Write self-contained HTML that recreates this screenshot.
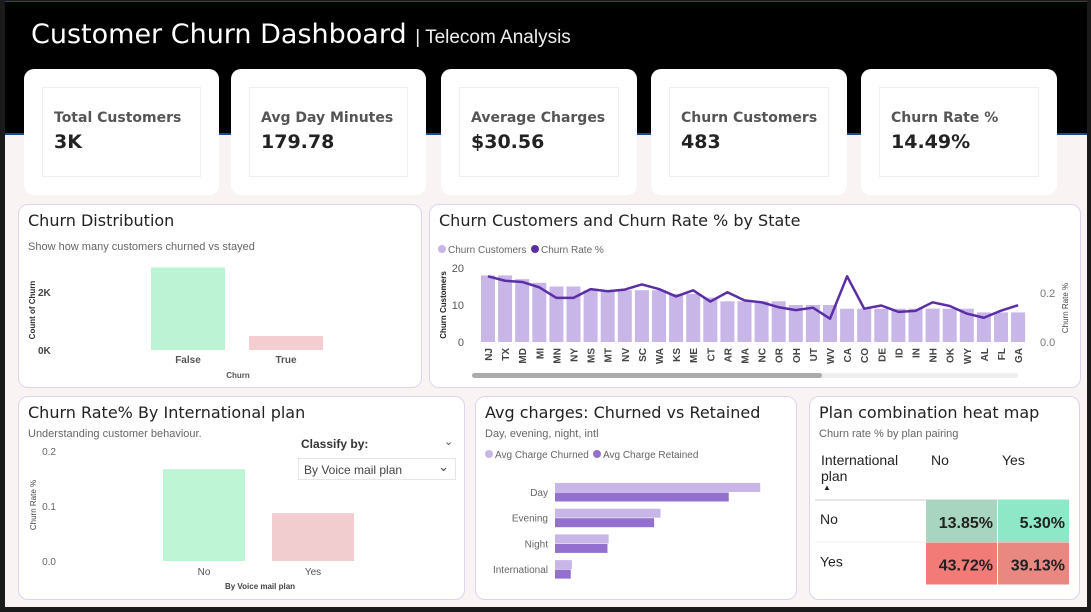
<!DOCTYPE html>
<html><head><meta charset="utf-8"><style>
*{box-sizing:border-box;margin:0;padding:0}
body{width:1091px;height:612px;overflow:hidden;background:#1a1a1a;font-family:"Liberation Sans",sans-serif;position:relative}
.page{position:absolute;left:5px;top:1px;width:1082px;height:606px;background:#f9f3f3;overflow:hidden}
.hdr{position:absolute;left:0;top:0;width:1082px;height:134px;background:#000;border-bottom:2px solid #1a4a8a;border-top:1px solid #1a4a8a}
.title{position:absolute;left:26px;top:17px;color:#fff;font-family:"DejaVu Sans",sans-serif;font-size:27px}
.title span{font-family:"Liberation Sans",sans-serif;font-size:19px;color:#eee}
.kpi{position:absolute;top:68px;height:126px;background:#fff;border-radius:10px}
.kin{position:absolute;left:18px;top:18px;right:18px;bottom:18px;border:1px solid #f0eeee}
.kl{position:absolute;left:11px;top:22px;font-family:"DejaVu Sans",sans-serif;font-size:14px;font-weight:bold;color:#555}
.kv{position:absolute;left:11px;top:43px;font-family:"DejaVu Sans",sans-serif;font-size:19px;font-weight:bold;color:#222}
.pan{position:absolute;background:#fff;border:1px solid #ddd3ee;border-radius:10px}
.pt{position:absolute;left:9px;top:6px;font-family:"DejaVu Sans",sans-serif;font-size:16px;color:#222}
.ps{position:absolute;left:9px;font-size:11px;color:#666}
svg text{font-family:"Liberation Sans",sans-serif}
</style></head><body>
<div class="page">
<div class="hdr">
<div class="title">Customer Churn Dashboard <span>| Telecom Analysis</span></div>
</div>
<div class="kpi" style="left:19px;width:195px"><div class="kin"><div class="kl">Total Customers</div><div class="kv">3K</div></div></div>
<div class="kpi" style="left:226px;width:195px"><div class="kin"><div class="kl">Avg Day Minutes</div><div class="kv">179.78</div></div></div>
<div class="kpi" style="left:436px;width:196px"><div class="kin"><div class="kl">Average Charges</div><div class="kv">$30.56</div></div></div>
<div class="kpi" style="left:646px;width:196px"><div class="kin"><div class="kl">Churn Customers</div><div class="kv">483</div></div></div>
<div class="kpi" style="left:856px;width:196px"><div class="kin"><div class="kl">Churn Rate %</div><div class="kv">14.49%</div></div></div>

<div class="pan" style="left:13px;top:203px;width:404px;height:184px">
<div class="pt">Churn Distribution</div><div class="ps" style="top:36px">Show how many customers churned vs stayed</div></div>
<div class="pan" style="left:424px;top:203px;width:652px;height:184px">
<div class="pt">Churn Customers and Churn Rate % by State</div></div>
<div class="pan" style="left:13px;top:395px;width:447px;height:204px">
<div class="pt">Churn Rate% By International plan</div><div class="ps" style="top:31px">Understanding customer behaviour.</div>
<div style="position:absolute;left:282px;top:40px;font-size:12px;font-weight:bold;color:#333">Classify by:</div>
<div style="position:absolute;left:425px;top:38px;font-size:11px;color:#555">&#8964;</div>
<div style="position:absolute;left:279px;top:61px;width:158px;height:22px;border:1px solid #e6e6e6;font-size:12px;color:#444;padding:4px 5px">By Voice mail plan<span style="position:absolute;right:6px;top:0px;font-size:13px">&#8964;</span></div>
</div>
<div class="pan" style="left:470px;top:395px;width:322px;height:204px">
<div class="pt">Avg charges: Churned vs Retained</div><div class="ps" style="top:31px">Day, evening, night, intl</div></div>
<div class="pan" style="left:804px;top:395px;width:271px;height:204px">
<div class="pt">Plan combination heat map</div><div class="ps" style="top:31px">Churn rate % by plan pairing</div></div>

<svg id="chart" width="1082" height="606" style="position:absolute;left:0;top:0"></svg>
</div>
<script>
const churnCats=["False","True"];
const churnCounts=[2850,483];
const states=["NJ","TX","MD","MI","MN","NY","MS","MT","NV","SC","WA","KS","ME","CT","AR","MA","NC","OR","OH","UT","WV","CA","CO","DE","ID","IN","NH","OK","WY","AL","FL","GA"];
const stateChurn=[18,18,17,16,15,15,14,14,14,14,14,13,13,12,11,11,11,11,10,10,10,9,9,9,9,9,9,9,9,8,8,8];
const stateRate=[0.268,0.25,0.245,0.223,0.18,0.18,0.216,0.207,0.214,0.235,0.216,0.186,0.211,0.165,0.203,0.17,0.162,0.142,0.13,0.14,0.095,0.268,0.136,0.149,0.123,0.127,0.162,0.147,0.116,0.099,0.128,0.15];
const vmCats=["No","Yes"];
const vmRates=[0.167,0.087];
const chargeCats=["Day","Evening","Night","International"];
const chargeChurned=[35.2,18.1,9.2,2.9];
const chargeRetained=[29.8,17.0,9.0,2.7];
const heatRows=["No","Yes"];
const heatCols=["No","Yes"];
const heatVals=[[13.85,5.30],[43.72,39.13]];
const heatColors=[["#a8d5bf","#8ee8c8"],["#f27b78","#e88880"]];

const svg=document.getElementById('chart');const NS="http://www.w3.org/2000/svg";
function mk(t,a,txt){const e=document.createElementNS(NS,t);for(const k in a)e.setAttribute(k,a[k]);if(txt!==undefined)e.textContent=txt;svg.appendChild(e);return e;}
const OX=-5,OY=-1;
{const y=v=>350+OY-v*58/2000;
 mk('text',{x:38+OX,y:296+OY,'font-size':10,'font-weight':'bold',fill:'#444'},'2K');
 mk('text',{x:38+OX,y:354+OY,'font-size':10,'font-weight':'bold',fill:'#444'},'0K');
 let t=mk('text',{x:0,y:0,'font-size':8,'font-weight':'bold',fill:'#333',transform:`translate(${35+OX},${310+OY}) rotate(-90)`,'text-anchor':'middle'},'Count of Churn');
 
 const cols=['#bdf3d5','#f3cdd0'];
 churnCats.forEach((c,i)=>{const x=151+i*98+OX;const b=mk('rect',{x:x,y:y(churnCounts[i]),width:74,height:y(0)-y(churnCounts[i]),fill:cols[i]});
  
  mk('text',{x:x+37,y:363+OY,'font-size':10,'font-weight':'bold',fill:'#555','text-anchor':'middle'},c);});
 mk('text',{x:238+OX,y:378+OY,'font-size':8,'font-weight':'bold',fill:'#555','text-anchor':'middle'},'Churn');
}
{const y=v=>342+OY-v*74/20, yr=v=>342+OY-v*245, xc=i=>488+OX+i*17.1;
 mk('circle',{cx:442+OX,cy:249+OY,r:4,fill:'#c8b6e8'});
 mk('text',{x:448+OX,y:253+OY,'font-size':10,fill:'#666'},'Churn Customers');
 mk('circle',{cx:535+OX,cy:249+OY,r:4,fill:'#5b2ea6'});
 mk('text',{x:541+OX,y:253+OY,'font-size':10,fill:'#666'},'Churn Rate %');
 [0,10,20].forEach(v=>mk('text',{x:464+OX,y:y(v)+4,'font-size':11,fill:'#555','text-anchor':'end'},v));
 [0,0.2].forEach(v=>mk('text',{x:1040+OX,y:yr(v)+4,'font-size':11,fill:'#777'},v.toFixed(1)));
 mk('text',{x:0,y:0,'font-size':8,'font-weight':'bold',fill:'#222',transform:`translate(${446+OX},${305+OY}) rotate(-90)`,'text-anchor':'middle'},'Churn Customers');
 mk('text',{x:0,y:0,'font-size':8,fill:'#444',transform:`translate(${1068+OX},${308+OY}) rotate(-90)`,'text-anchor':'middle'},'Churn Rate %');
 states.forEach((s,i)=>{const b=mk('rect',{x:xc(i)-7,y:y(stateChurn[i]),width:14,height:y(0)-y(stateChurn[i]),fill:'#c8b6e8'});
  
  mk('text',{x:0,y:0,'font-size':10,'font-weight':'bold',fill:'#444',transform:`translate(${xc(i)+4},${348+OY}) rotate(-90)`,'text-anchor':'end'},s);});
 const l=mk('polyline',{points:stateRate.map((v,i)=>xc(i)+','+yr(v)).join(' '),fill:'none',stroke:'#5b2ea6','stroke-width':2.5,'stroke-linejoin':'round'});
 
 mk('rect',{x:472+OX,y:373+OY,width:546,height:5,rx:2.5,fill:'#eee'});
 const sb=mk('rect',{x:472+OX,y:373+OY,width:350,height:5,rx:2.5,fill:'#aaa'});
 
}
{const y=v=>561+OY-v*550;
 [0,0.1,0.2].forEach(v=>mk('text',{x:56+OX,y:y(v)+4,'font-size':10,fill:'#666','text-anchor':'end'},v.toFixed(1)));
 mk('text',{x:0,y:0,'font-size':8,fill:'#444',transform:`translate(${36+OX},${505+OY}) rotate(-90)`,'text-anchor':'middle'},'Churn Rate %');
 const cols=['#bdf5d5','#f2cdd0'];
 vmCats.forEach((c,i)=>{const x=163+i*109+OX;const b=mk('rect',{x:x,y:y(vmRates[i]),width:82,height:y(0)-y(vmRates[i]),fill:cols[i]});
  
  mk('text',{x:x+41,y:575+OY,'font-size':10,fill:'#555','text-anchor':'middle'},c);});
 mk('text',{x:260+OX,y:589+OY,'font-size':8,'font-weight':'bold',fill:'#444','text-anchor':'middle'},'By Voice mail plan');
}
{const x=v=>555+OX+v*5.83;
 mk('circle',{cx:489+OX,cy:454+OY,r:4,fill:'#c8b6e8'});
 mk('text',{x:495+OX,y:458+OY,'font-size':10,fill:'#666'},'Avg Charge Churned');
 mk('circle',{cx:597+OX,cy:454+OY,r:4,fill:'#9370d0'});
 mk('text',{x:603+OX,y:458+OY,'font-size':10,fill:'#666'},'Avg Charge Retained');
 chargeCats.forEach((c,i)=>{const y0=483+i*25.7+OY;
  const a=mk('rect',{x:x(0),y:y0,width:x(chargeChurned[i])-x(0),height:9,fill:'#c8b6e8'});
  
  const b=mk('rect',{x:x(0),y:y0+9.5,width:x(chargeRetained[i])-x(0),height:9,fill:'#9370d0'});
  
  mk('text',{x:548+OX,y:y0+13,'font-size':10,fill:'#666','text-anchor':'end'},c);});
}
{mk('text',{x:821+OX,y:465+OY,'font-size':14,fill:'#222'},'International');
 mk('text',{x:821+OX,y:481+OY,'font-size':14,fill:'#222'},'plan');
 mk('text',{x:823+OX,y:490+OY,'font-size':8,fill:'#222'},'▲');
 heatCols.forEach((c,j)=>mk('text',{x:931+j*71+OX,y:465+OY,'font-size':14,fill:'#222'},c));
 mk('line',{x1:815+OX,x2:1069+OX,y1:500+OY,y2:500+OY,stroke:'#ccc'});
 mk('line',{x1:815+OX,x2:1069+OX,y1:542+OY,y2:542+OY,stroke:'#eee'});
 heatRows.forEach((r,i)=>{const y0=500+i*42.5+OY;
  mk('text',{x:820+OX,y:y0+24,'font-size':14,fill:'#222'},r);
  heatCols.forEach((c,j)=>{const x0=926+j*72+OX;
   const cell=mk('rect',{x:x0,y:y0,width:71,height:42,fill:heatColors[i][j]});
   
   mk('text',{x:x0+67,y:y0+28,'font-size':16,'font-weight':'bold',fill:'#222','text-anchor':'end','font-family':'DejaVu Sans, sans-serif'},heatVals[i][j].toFixed(2)+'%');});});
}
</script>
</body></html>
